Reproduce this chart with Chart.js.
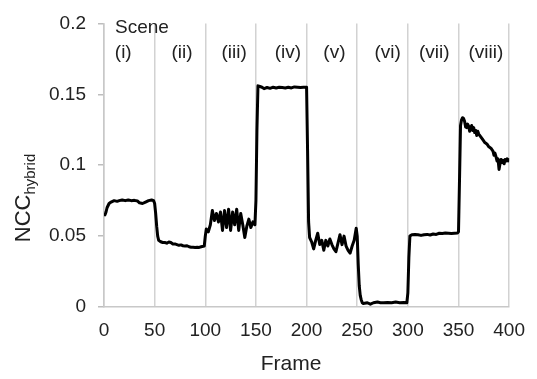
<!DOCTYPE html>
<html>
<head>
<meta charset="utf-8">
<script src="https://cdn.jsdelivr.net/npm/chart.js@4/dist/chart.umd.min.js"></script>
<style>
  html, body { margin: 0; padding: 0; background: #fff; }
  #wrap { width: 537px; height: 379px; }
</style>
</head>
<body>
<div id="wrap"><canvas id="chart"></canvas></div>
<script>
  // ***************************************************
  // Data (frame, NCC_hybrid)
  // ***************************************************
  var frames = [
    1, 2, 3, 5, 7, 10, 13, 15, 18, 21, 24, 27, 30, 33, 35, 38, 41, 44, 47, 49, 50, 51, 52, 53, 54,
    56, 58, 60, 62, 64, 66, 68, 70, 72, 74, 76, 78, 80, 82, 84, 86, 88, 90, 92, 94, 96, 98, 99, 100,
    101, 103, 105, 107, 109, 111, 113, 115, 117, 119, 121, 123, 125, 127, 129, 131, 133, 135, 137,
    139, 141, 143, 145, 147, 149, 150, 151, 152,
    154, 156, 158, 161, 164, 167, 170, 173, 176, 179, 182, 185, 188, 191, 194, 197, 199, 200, 201, 202, 203,
    205, 207, 209, 211, 213, 215, 217, 219, 221, 223, 225, 227, 229, 231, 233, 235, 237, 239, 241,
    243, 245, 247, 249, 250, 251, 252, 253, 254, 255,
    256, 260, 263, 266, 270, 273, 276, 280, 284, 288, 292, 296, 299, 300, 301, 302,
    304, 307, 310, 313, 316, 319, 322, 325, 328, 331, 334, 337, 340, 343, 346, 349, 350, 351, 352,
    353, 354, 355, 356, 357, 358, 359, 360, 361, 362, 363, 364, 365, 366, 367, 368, 369, 370, 372, 374,
    376, 378, 380, 382, 384, 385, 386, 387, 388, 389, 390, 391, 392, 393, 394, 395, 396, 397, 398, 399, 400
  ];
  var nccValues = [
    0.065, 0.067, 0.070, 0.073, 0.074, 0.075, 0.0745, 0.075, 0.0755, 0.075, 0.0755, 0.075, 0.0752, 0.0748, 0.0735,
    0.073, 0.074, 0.075, 0.0755, 0.075, 0.073, 0.066, 0.057, 0.050, 0.047,
    0.046, 0.0455, 0.0455, 0.045, 0.0458, 0.0455, 0.0445, 0.0445, 0.044, 0.0435, 0.0438, 0.0432, 0.043, 0.0432,
    0.0425, 0.0422, 0.0422, 0.042, 0.0422, 0.042, 0.0425, 0.0428, 0.043, 0.050,
    0.055, 0.053, 0.058, 0.068, 0.061, 0.066, 0.060, 0.067, 0.054, 0.068, 0.056, 0.069, 0.054, 0.067, 0.058,
    0.069, 0.054, 0.066, 0.058, 0.049, 0.057, 0.062, 0.056, 0.060, 0.058, 0.075, 0.125, 0.156,
    0.1555, 0.155, 0.154, 0.1548, 0.1542, 0.155, 0.1545, 0.155, 0.1548, 0.1545, 0.155, 0.1545, 0.1552, 0.155,
    0.1548, 0.155, 0.155, 0.155, 0.110, 0.060, 0.049,
    0.046, 0.041, 0.047, 0.052, 0.044, 0.047, 0.040, 0.047, 0.043, 0.048, 0.044, 0.041, 0.039, 0.045, 0.051,
    0.044, 0.050, 0.043, 0.040, 0.038, 0.043, 0.047, 0.0555, 0.050, 0.030, 0.015, 0.008, 0.005, 0.003,
    0.0025, 0.003, 0.002, 0.003, 0.0035, 0.003, 0.003, 0.0032, 0.003, 0.0035, 0.003, 0.0032, 0.003, 0.010, 0.035, 0.050,
    0.051, 0.0512, 0.051, 0.0505, 0.051, 0.0512, 0.0508, 0.0515, 0.0512, 0.052, 0.0518, 0.0522, 0.052, 0.0518,
    0.052, 0.0522, 0.053, 0.090, 0.128,
    0.132, 0.1335, 0.133, 0.131, 0.127, 0.1265, 0.129, 0.1275, 0.124, 0.126, 0.128, 0.1245, 0.1265, 0.123,
    0.1245, 0.121, 0.124, 0.122, 0.120, 0.118,
    0.116, 0.115, 0.113, 0.112, 0.110, 0.107, 0.1085, 0.106, 0.103, 0.1045, 0.097, 0.101, 0.104, 0.102, 0.1035,
    0.101, 0.104, 0.103, 0.1045, 0.103, 0.104
  ];
  var sceneNames = ['(i)', '(ii)', '(iii)', '(iv)', '(v)', '(vi)', '(vii)', '(viii)'];
  var xTicks = [0, 50, 100, 150, 200, 250, 300, 350, 400];
  var yTicks = [0, 0.05, 0.1, 0.15, 0.2];

  var textColor = '#222';
  var fontFamily = '"Liberation Sans", Arial, sans-serif';

  // ***************************************************
  // Plugin: scene labels and axis titles (subscript)
  // ***************************************************

  /**
   * Where each scene label sits, in frames (labels are not centred
   * uniformly in the source figure)
   */
  var sceneLabelAt = [19, 77, 128.5, 181.5, 227.5, 280, 326, 377];

  var annotations = {
    id: 'annotations',
    afterDraw: function(chart) {
      var ctx = chart.ctx;
      var area = chart.chartArea;
      var xs = chart.scales.x;

      ctx.save();
      ctx.fillStyle = textColor;
      ctx.textBaseline = 'middle';

      // "Scene" heading
      ctx.font = '19px ' + fontFamily;
      ctx.textAlign = 'left';
      ctx.fillText('Scene', area.left + 11, area.top + 4);

      // scene numerals
      ctx.textAlign = 'center';
      sceneNames.forEach(function(name, i) {
        ctx.fillText(name, xs.getPixelForValue(sceneLabelAt[i]), area.top + 29);
      });

      // x title
      ctx.font = '21px ' + fontFamily;
      ctx.fillText('Frame', 291, 364);

      // y title: NCC with subscript "hybrid"
      ctx.translate(22, 198);
      ctx.rotate(-Math.PI / 2);
      var big = '22px ' + fontFamily;
      var small = '15px ' + fontFamily;
      ctx.font = big;
      var w1 = ctx.measureText('NCC').width;
      ctx.font = small;
      var w2 = ctx.measureText('hybrid').width;
      var x0 = -(w1 + w2) / 2;
      ctx.textAlign = 'left';
      ctx.textBaseline = 'alphabetic';
      ctx.font = big;
      ctx.fillText('NCC', x0, 8);
      ctx.font = small;
      ctx.fillText('hybrid', x0 + w1, 13);
      ctx.restore();
    }
  };

  // ***************************************************
  // Chart
  // ***************************************************
  var points = frames.map(function(f, i) {
    return { x: f, y: nccValues[i] };
  });

  new Chart(document.getElementById('chart'), {
    type: 'line',
    data: {
      datasets: [{
        data: points,
        borderColor: '#000',
        borderWidth: 3,
        borderJoinStyle: 'round',
        borderCapStyle: 'round',
        pointRadius: 0,
        tension: 0,
        fill: false
      }]
    },
    options: {
      responsive: true,
      maintainAspectRatio: false,
      animation: false,
      layout: { padding: { top: 23, right: 19, left: 0, bottom: 0 } },
      plugins: {
        legend: { display: false },
        tooltip: { enabled: false }
      },
      scales: {
        x: {
          type: 'linear',
          min: 0,
          max: 400,
          afterFit: function(scale) { scale.height = 72; },
          afterBuildTicks: function(scale) {
            scale.ticks = xTicks.map(function(v) { return { value: v }; });
          },
          grid: { color: '#d2d2d2', lineWidth: 1.5, drawTicks: false },
          border: { color: '#c8c8c8', width: 1.5 },
          ticks: {
            padding: 12,
            color: textColor,
            font: { family: fontFamily, size: 19 }
          }
        },
        y: {
          min: 0,
          max: 0.2,
          afterFit: function(scale) { scale.width = 104; },
          afterBuildTicks: function(scale) {
            scale.ticks = yTicks.map(function(v) { return { value: v }; });
          },
          grid: { drawOnChartArea: false, drawTicks: true, tickLength: 6, color: '#bdbdbd', lineWidth: 1.5 },
          border: { color: '#c8c8c8', width: 1.5 },
          ticks: {
            padding: 12,
            color: textColor,
            font: { family: fontFamily, size: 19 },
            callback: function(v) { return String(parseFloat(v.toFixed(2))); }
          }
        }
      }
    },
    plugins: [annotations]
  });
</script>
</body>
</html>
